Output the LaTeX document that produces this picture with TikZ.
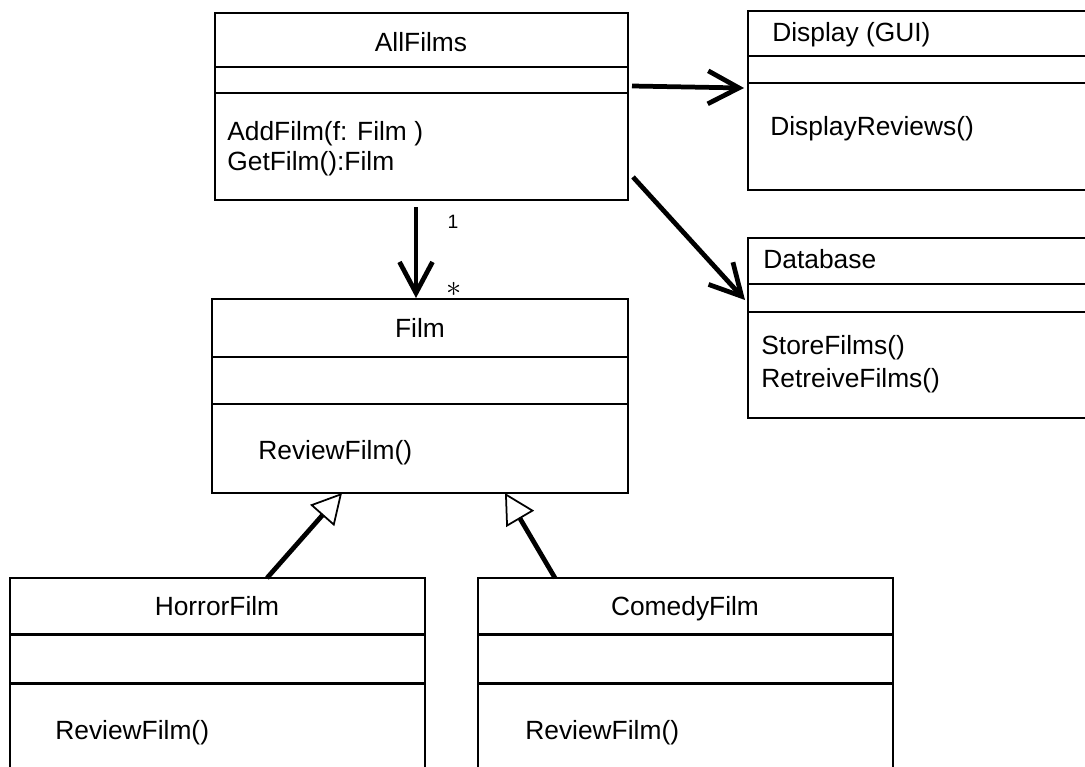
\documentclass[tikz,border=0pt]{standalone}
\usepackage{fontspec}
\setmainfont{Liberation Sans}
\usetikzlibrary{arrows.meta, positioning, fit, calc}

\begin{document}
\begin{tikzpicture}[
  x=0.02cm, y=-0.02cm,
  classbox/.style={draw, line width=0.9pt, inner sep=0pt, outer sep=0pt},
  divider/.style={line width=1.7pt},
  classname/.style={font=\fontsize{15}{18}\selectfont, anchor=base, inner sep=0pt},
  member/.style={font=\fontsize{15}{18}\selectfont, anchor=base west, inner sep=0pt},
  mult/.style={font=\fontsize{11}{13}\selectfont, inner sep=0pt},
  assoc/.style={->, line width=2.7pt},
  inherit/.style={-{Triangle[open, fill=white, line width=1pt, length=0.6cm, width=0.64cm]}, line width=2.7pt},
  >={Straight Barb[length=0.62cm, width=0.66cm]}
]
\useasboundingbox (0,0) rectangle (1085,767);
\clip (0,0) rectangle (1085,767);

% Class boxes
\node[classbox, fit={(215,13) (628,200)}] (allfilms) {};
\node[classbox, fit={(748,11) (1120,190)}] (display) {};
\node[classbox, fit={(748,238) (1120,418)}] (database) {};
\node[classbox, fit={(212,299) (628,493)}] (film) {};
\node[classbox, fit={(10,578) (425,800)}] (horror) {};
\node[classbox, fit={(478,578) (893,800)}] (comedy) {};

% Compartment lines
\draw[divider] (215,67) -- (628,67);
\draw[divider] (215,93) -- (628,93);
\draw[divider] (748,56) -- (1085,56);
\draw[divider] (748,83) -- (1085,83);
\draw[divider] (748,284) -- (1085,284);
\draw[divider] (748,312) -- (1085,312);
\draw[divider] (212,357) -- (628,357);
\draw[divider] (212,404) -- (628,404);
\draw[divider] (10,634) -- (425,634);
\draw[divider] (10,683) -- (425,683);
\draw[divider] (478,634) -- (893,634);
\draw[divider] (478,683) -- (893,683);

% Names and operations
\node[classname] (allfilmsname) at (421,52) {AllFilms};
\node[member] (addfilm) at (227,140) {AddFilm(f: Film )};
\node[member] (getfilm) at (227,171) {GetFilm():Film};
\node[member] (displayname) at (772,42) {Display (GUI)};
\node[member] (displayreviews) at (770,135) {DisplayReviews()};
\node[member] (databasename) at (763,268) {Database};
\node[member] (storefilms) at (761,354) {StoreFilms()};
\node[member] (retrievefilms) at (761,387) {RetreiveFilms()};
\node[classname] (filmname) at (420,337) {Film};
\node[member] (filmreview) at (258,459) {ReviewFilm()};
\node[classname] (horrorname) at (217,615) {HorrorFilm};
\node[member] (horrorreview) at (55,739) {ReviewFilm()};
\node[classname] (comedyname) at (685,615) {ComedyFilm};
\node[member] (comedyreview) at (525,739) {ReviewFilm()};

% Multiplicities
\node[mult] (multone) at (453,222) {1};
\node[mult, font=\fontsize{19}{21}\selectfont] (multmany) at (454,289) {$\ast$};

% Associations
\draw[assoc] ($(allfilms.south west)+(201,7)$) -- ($(film.north west)+(204,-1)$);
\draw[assoc] ($(allfilms.north east)+(4,73)$) -- ($(display.north west)+(-4,77)$);
\draw[assoc] ($(allfilms.north east)+(5,164)$) -- ($(database.north west)+(-3,62)$);

% Generalisations
\draw[inherit] ($(horror.north west)+(257,0)$) -- ($(film.south west)+(130,0)$);
\draw[inherit] ($(comedy.north west)+(77,0)$) -- ($(film.south west)+(293,0)$);
\end{tikzpicture}
\end{document}
